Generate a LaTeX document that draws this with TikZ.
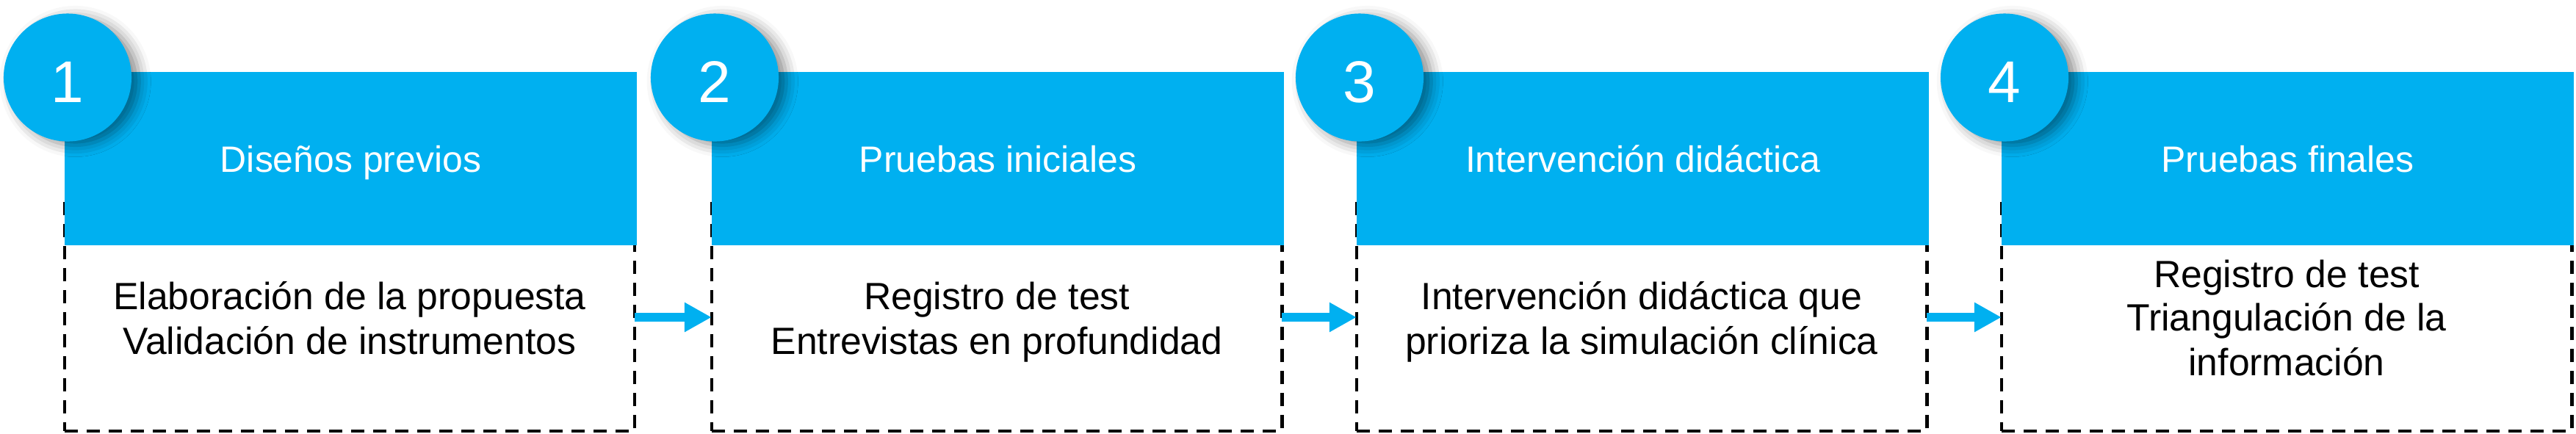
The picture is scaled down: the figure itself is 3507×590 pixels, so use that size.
\documentclass[tikz,border=0pt]{standalone}
\usepackage{fontspec}
\setmainfont{Liberation Sans}
\usetikzlibrary{arrows.meta,shadows.blur}
\definecolor{stepblue}{RGB}{0,176,240}
\begin{document}
\begin{tikzpicture}[x=0.01cm,y=-0.01cm,
  dashbox/.style={draw=black, line width=0.045cm, dash pattern=on 0.18cm off 0.12cm,
    minimum width=7.76cm, minimum height=3.10cm, inner sep=0pt, outer sep=0pt},
  bluebox/.style={fill=stepblue, minimum width=7.79cm, minimum height=2.355cm,
    inner sep=0pt, outer sep=0pt},
  numcirc/.style={circle, fill=stepblue, minimum size=1.74cm, inner sep=0pt,
    blur shadow={shadow xshift=3pt, shadow yshift=-1.5pt, shadow blur radius=4.5pt, shadow opacity=45}},
  numtext/.style={text=white, font=\fontsize{22.8}{27}\selectfont, anchor=base, inner sep=0pt},
  titletext/.style={text=white, font=\fontsize{14.2}{17}\selectfont, anchor=base, inner sep=0pt},
  bodytext/.style={text=black, font=\fontsize{14.7}{17}\selectfont, anchor=base, inner sep=0pt},
  flow/.style={draw=stepblue, line width=0.12cm, -{Triangle[length=0.37cm,width=0.38cm]}}]
\useasboundingbox (0,0) rectangle (3507,590);
% dashed boxes
\node[dashbox] (d1) at (476,432) {};
\node[dashbox] (d2) at (1357,432) {};
\node[dashbox] (d3) at (2235,432) {};
\node[dashbox] (d4) at (3113,432) {};
% blue header boxes
\node[bluebox] (b1) at (477.5,216.25) {};
\node[bluebox] (b2) at (1358.5,216.25) {};
\node[bluebox] (b3) at (2236.5,216.25) {};
\node[bluebox] (b4) at (3114.5,216.25) {};
% number circles
\node[numcirc] (c1) at (92,105.5) {};
\node[numcirc] (c2) at (973,105.5) {};
\node[numcirc] (c3) at (1851,105.5) {};
\node[numcirc] (c4) at (2729,105.5) {};
\node[numtext] (n1) at (92,139) {1};
\node[numtext] (n2) at (973,139) {2};
\node[numtext] (n3) at (1851,139) {3};
\node[numtext] (n4) at (2729,139) {4};
% titles
\node[titletext] (h1) at (477.5,234) {Diseños previos};
\node[titletext] (h2) at (1358.5,234) {Pruebas iniciales};
\node[titletext] (h3) at (2236.5,234) {Intervención didáctica};
\node[titletext] (h4) at (3114.5,234) {Pruebas finales};
% body texts
\node[bodytext] (t1a) at (476,421.5) {Elaboración de la propuesta};
\node[bodytext] (t1b) at (476,482) {Validación de instrumentos};
\node[bodytext] (t2a) at (1357,421.5) {Registro de test};
\node[bodytext] (t2b) at (1357,482) {Entrevistas en profundidad};
\node[bodytext] (t3a) at (2235,421.5) {Intervención didáctica que};
\node[bodytext] (t3b) at (2235,482) {prioriza la simulación clínica};
\node[bodytext] (t4a) at (3113,391) {Registro de test};
\node[bodytext] (t4b) at (3113,450.5) {Triangulación de la};
\node[bodytext] (t4c) at (3113,511) {información};
% arrows
\draw[flow] (d1.east) -- (d2.west);
\draw[flow] (d2.east) -- (d3.west);
\draw[flow] (d3.east) -- (d4.west);
\end{tikzpicture}
\end{document}
